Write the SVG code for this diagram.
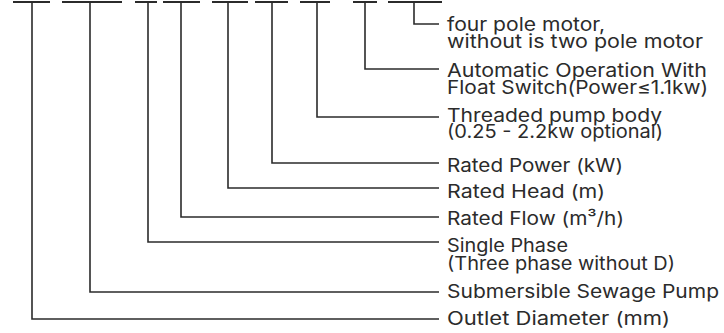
<svg xmlns="http://www.w3.org/2000/svg" width="724" height="333" viewBox="0 0 724 333">
<style>
.bar{stroke:#2b2b2b;stroke-width:2;fill:none}
.ln{stroke:#2b2b2b;stroke-width:1.6;fill:none}
text{font-family:Inter,"Open Sans","Liberation Sans",sans-serif;font-size:18.5px;fill:#2b2b2b}
</style>
<rect width="724" height="333" fill="#fff"/>
<g id="bars">
<path class="bar" d="M13 2H50M62 2H122M135 2H157M163 2H200M212 2H248M255 2H288M300 2H330M353 2H377M388 2H442"/>
</g>
<g id="connectors">
<path class="ln" d="M32 2V319H439"/>
<path class="ln" d="M90 2V292H439"/>
<path class="ln" d="M148 2V242H439"/>
<path class="ln" d="M181 2V217H439"/>
<path class="ln" d="M228 2V188H439"/>
<path class="ln" d="M272 2V163H439"/>
<path class="ln" d="M317 2V117H439"/>
<path class="ln" d="M365 2V69H439"/>
<path class="ln" d="M414 2V24H439"/>
</g>
<g id="n-pole"><text x="447" y="31" textLength="158" lengthAdjust="spacingAndGlyphs">four pole motor,</text><text x="447" y="48" textLength="256" lengthAdjust="spacingAndGlyphs">without is two pole motor</text></g>
<g id="n-auto"><text x="447" y="77" textLength="260" lengthAdjust="spacingAndGlyphs">Automatic Operation With</text><text x="447" y="94" textLength="261" lengthAdjust="spacingAndGlyphs">Float Switch(Power≤1.1kw)</text></g>
<g id="n-thread"><text x="447" y="122" textLength="215" lengthAdjust="spacingAndGlyphs">Threaded pump body</text><text x="447" y="138" textLength="216" lengthAdjust="spacingAndGlyphs">(0.25 - 2.2kw optional)</text></g>
<g id="n-power"><text x="447" y="172" textLength="176" lengthAdjust="spacingAndGlyphs">Rated Power (kW)</text></g>
<g id="n-head"><text x="447" y="198" textLength="158" lengthAdjust="spacingAndGlyphs">Rated Head (m)</text></g>
<g id="n-flow"><text x="447" y="225" textLength="177" lengthAdjust="spacingAndGlyphs">Rated Flow (m³/h)</text></g>
<g id="n-phase"><text x="447" y="252" textLength="121" lengthAdjust="spacingAndGlyphs">Single Phase</text><text x="447" y="270" textLength="228" lengthAdjust="spacingAndGlyphs">(Three phase without D)</text></g>
<g id="n-sub"><text x="447" y="298" textLength="272" lengthAdjust="spacingAndGlyphs">Submersible Sewage Pump</text></g>
<g id="n-outlet"><text x="447" y="325" textLength="223" lengthAdjust="spacingAndGlyphs">Outlet Diameter (mm)</text></g>
</svg>
